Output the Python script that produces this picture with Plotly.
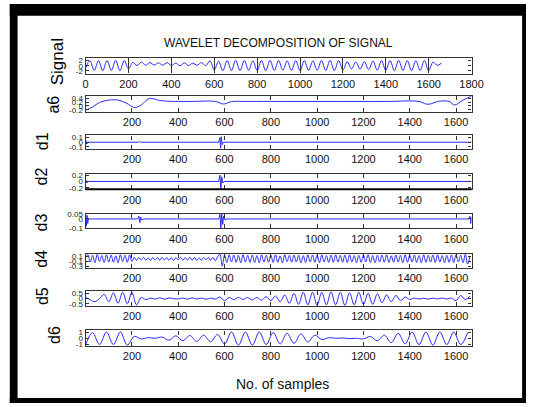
import plotly.graph_objects as go

W, H = 538, 407

# ------------------------------------------------------------------ data
# Original signal, sampled every 20 samples (peaks / troughs)
signal_step = 20
signal_y = [
    -0.8, 1.9, -1.8, 2.0, -1.9, 2.0, -1.8, 2.1, -1.9, 2.0,
    -1.2, 1.3, 0.1, 1.4, 0.2, 1.2, 0.3, 1.1, 0.2, 1.2,
    0.1, 1.0, 0.0, 1.1, 0.1, 1.0, 0.2, 1.2, 0.0, 1.9,
    -1.6, 1.8, -1.9, 2.0, -1.8, 2.1, -1.9, 2.0, -1.7, 1.9,
    -1.8, 2.0, -1.9, 2.1, -1.8, 2.0, -1.7, 1.9, -1.8, 2.0,
    -1.9, 2.0, -1.8, 1.9, -1.7, 2.0, -1.8, 2.1, -1.9, 2.0,
    -1.6, 1.5, -1.2, 1.4, -1.3, 1.6, -1.5, 1.8, -1.7, 2.0,
    -1.8, 2.0, -1.9, 2.1, -1.8, 2.0, -1.9, 1.9, -1.8, 2.0,
    -1.9, 1.4, 0.2, 1.0,
]

# Approximation a6
a6_x = [0, 30, 60, 100, 140, 175, 212, 240, 275, 320, 360, 450, 560, 596, 630,
        700, 900, 1100, 1300, 1440, 1470, 1490, 1520, 1570, 1594, 1630, 1667]
a6_y = [-0.22, -0.05, 0.18, 0.3, 0.3, 0.15, -0.08, 0.05, 0.38, 0.28, 0.24, 0.23, 0.23, 0.1, 0.22,
        0.23, 0.23, 0.23, 0.23, 0.23, 0.1, 0.1, 0.23, 0.23, 0.05, 0.3, 0.5]

# Detail d1
d1_x = [0, 5, 10, 200, 228, 232, 236, 400, 575, 580, 583, 586, 590, 595, 800, 1200, 1667]
d1_y = [0.05, -0.04, 0.0, 0.0, 0.0, 0.02, 0.0, 0.0, 0.0, 0.1, -0.13, 0.12, -0.05, 0.0, 0.0, 0.0, 0.0]

# Detail d2
d2_x = [0, 5, 10, 400, 575, 580, 584, 588, 592, 598, 800, 1667]
d2_y = [0.06, -0.05, 0.0, 0.0, 0.0, 0.2, -0.23, 0.15, -0.05, 0.0, 0.0, 0.0]

# Detail d3
d3_x = [0, 3, 6, 9, 12, 20, 225, 230, 234, 238, 242, 250, 575, 580, 584, 588,
        592, 596, 602, 610, 1655, 1660, 1664, 1667]
d3_y = [0.05, -0.08, 0.04, -0.05, 0.0, 0.0, 0.0, 0.03, -0.04, 0.02, -0.01, 0.0, 0.0, 0.05, -0.1, 0.055,
        -0.06, 0.03, -0.01, 0.0, 0.0, 0.03, -0.05, 0.02]

# Detail d4, every 10 samples
d4_step = 10
d4_y = [
    0.05, 0.16, -0.12, 0.14, -0.15, 0.17, -0.10, 0.13, -0.14, 0.16,
    -0.12, 0.15, -0.13, 0.12, -0.15, 0.16, -0.11, 0.14, -0.13, 0.15,
    -0.10, 0.06, -0.05, 0.05, -0.04, 0.06, -0.05, 0.04, -0.06, 0.05,
    -0.04, 0.05, -0.05, 0.06, -0.04, 0.05, -0.05, 0.04, -0.06, 0.05,
    -0.04, 0.06, -0.05, 0.05, -0.04, 0.06, -0.05, 0.05, -0.06, 0.04,
    -0.05, 0.06, -0.04, 0.05, -0.05, 0.06, -0.07, 0.08, 0.18, -0.28,
    0.15, -0.14, 0.16, -0.12, 0.15, -0.13, 0.14, -0.15, 0.16, -0.12,
    0.14, -0.13, 0.15, -0.14, 0.13, -0.15, 0.16, -0.12, 0.14, -0.13,
    0.15, -0.14, 0.16, -0.13, 0.12, -0.15, 0.16, -0.11, 0.14, -0.13,
    0.15, -0.12, 0.14, -0.15, 0.13, -0.14, 0.16, -0.12, 0.15, -0.13,
    0.14, -0.15, 0.16, -0.12, 0.13, -0.14, 0.15, -0.13, 0.16, -0.12,
    0.14, -0.13, 0.15, -0.14, 0.16, -0.12, 0.13, -0.15, 0.14, -0.13,
    0.15, -0.12, 0.16, -0.14, 0.13, -0.15, 0.14, -0.12, 0.15, -0.13,
    0.16, -0.14, 0.12, -0.13, 0.15, -0.12, 0.14, -0.15, 0.16, -0.13,
    0.14, -0.12, 0.15, -0.14, 0.13, -0.15, 0.16, -0.13, 0.14, -0.12,
    0.15, -0.14, 0.16, -0.12, 0.13, -0.15, 0.14, -0.13, 0.15, -0.14,
    0.16, -0.12, 0.14, -0.15, 0.18, -0.2, 0.1,
]

# Detail d5, every 20 samples
d5_step = 20
d5_y = [
    0.1, -0.1, -0.3, 0.0, 0.4, -0.3, 0.55, -0.45, 0.6, -0.5,
    0.6, -0.6, 0.1, -0.1, 0.05, -0.05, 0.08, -0.06, 0.05, 0.0,
    -0.04, 0.05, -0.05, 0.06, -0.04, 0.05, -0.06, 0.04, -0.05, 0.15,
    -0.2, 0.1, -0.1, 0.12, -0.08, 0.1, -0.12, 0.1, -0.15, 0.18,
    -0.2, 0.25, -0.3, 0.35, -0.45, 0.5, -0.55, 0.6, -0.6, 0.6,
    -0.65, 0.6, -0.6, 0.65, -0.6, 0.6, -0.65, 0.55, -0.6, 0.6,
    -0.55, 0.5, -0.55, 0.45, -0.4, 0.35, -0.3, 0.3, -0.2, 0.15,
    -0.08, 0.05, -0.04, 0.03, -0.05, 0.04, -0.03, 0.05, -0.04, 0.05,
    -0.2, 0.3, -0.1, 0.25,
]

# Detail d6, every 30 samples
d6_step = 30
d6_y = [
    -1.0, 0.9, -1.0, 1.0, -1.0, 1.0, -1.1, 0.3, -0.1, 0.1,
    0.0, 0.2, -0.3, 0.4, -0.4, 0.45, -0.5, 0.5, -0.55, 0.6,
    -0.9, 1.0, -1.1, 1.0, -1.1, 1.0, -1.0, 0.9, -0.9, 0.8,
    -0.8, 0.7, -0.6, 0.5, -0.2, 0.1, 0.0, 0.05, -0.05, 0.0,
    -0.1, 0.3, -0.4, 0.5, -0.7, 0.8, -0.9, 1.0, -1.0, 1.0,
    -1.1, 1.0, -1.0, 1.0, -1.0, 0.9,
]

signal_x = [i * signal_step for i in range(len(signal_y))]
d4_x = [i * d4_step for i in range(len(d4_y))]
d5_x = [i * d5_step for i in range(len(d5_y))]
d6_x = [i * d6_step for i in range(len(d6_y))]

x_ticks_signal = [0, 200, 400, 600, 800, 1000, 1200, 1400, 1600, 1800]
x_ticks_detail = [200, 400, 600, 800, 1000, 1200, 1400, 1600]

series = [
    ("Signal", signal_x, signal_y, [-3, 3], [2, 0, -2], [0, 1800], x_ticks_signal),
    ("a6", a6_x, a6_y, [-0.3, 0.5], [0.4, 0.2, 0, -0.2], [0, 1667], x_ticks_detail),
    ("d1", d1_x, d1_y, [-0.15, 0.15], [0.1, 0, -0.1], [0, 1667], x_ticks_detail),
    ("d2", d2_x, d2_y, [-0.25, 0.25], [0.2, 0, -0.2], [0, 1667], x_ticks_detail),
    ("d3", d3_x, d3_y, [-0.105, 0.057], [0.05, 0, -0.1], [0, 1667], x_ticks_detail),
    ("d4", d4_x, d4_y, [-0.34, 0.19], [0.1, -0.1, -0.3], [0, 1667], x_ticks_detail),
    ("d5", d5_x, d5_y, [-0.7, 0.7], [0.5, 0, -0.5], [0, 1667], x_ticks_detail),
    ("d6", d6_x, d6_y, [-1.25, 1.25], [1, 0, -1], [0, 1667], x_ticks_detail),
]

# ------------------------------------------------------------------ layout (pixels)
PLOT_L, PLOT_R = 85, 482
panel_px = [(55, 71), (94, 110), (134, 148), (173, 189), (214, 229), (255, 269), (293, 308), (333, 349)]
label_px = [(56, 59), (52, 103), (40, 140), (40, 176), (40, 223), (40, 260), (40, 298), (53, 338)]
x_ticklen = [8, 4, 4, 4, 4, 4, 4, 4]
smooth = [True, True, False, False, False, True, True, True]
label_size = [17, 16, 16, 16, 16, 16, 16, 16]

FONT = "Liberation Sans, Arial, sans-serif"
LINE_BLUE = "#2a2aff"
AXIS_COL = "#333333"

fig = go.Figure()
layout = dict(
    width=W, height=H, autosize=False,
    margin=dict(l=0, r=0, t=0, b=0),
    paper_bgcolor="white", plot_bgcolor="white",
    showlegend=False,
    font=dict(family=FONT, color="#111111"),
)

annotations = []
for i, (name, xs, ys, yr, yt, xr, xt) in enumerate(series):
    sfx = "" if i == 0 else str(i + 1)
    top, bot = panel_px[i]
    line = dict(color=LINE_BLUE, width=1)
    if smooth[i]:
        line.update(shape="spline", smoothing=1.0)
    fig.add_trace(go.Scatter(
        x=xs, y=ys, mode="lines", line=line,
        xaxis="x" + sfx, yaxis="y" + sfx, hoverinfo="skip",
    ))
    layout["xaxis" + sfx] = dict(
        domain=[PLOT_L / W, PLOT_R / W], range=xr, anchor="y" + sfx,
        tickmode="array", tickvals=xt, ticktext=[str(v) for v in xt],
        ticks="inside", ticklen=x_ticklen[i], tickcolor=AXIS_COL, tickwidth=1,
        mirror="allticks", showline=True, linecolor=AXIS_COL, linewidth=1.3,
        showgrid=False, zeroline=False,
        tickfont=dict(family=FONT, size=11, color="#111111"),
    )
    layout["yaxis" + sfx] = dict(
        domain=[1 - bot / H, 1 - top / H], range=yr, anchor="x" + sfx,
        tickmode="array", tickvals=yt, ticktext=[str(v) for v in yt],
        ticks="inside", ticklen=3, tickcolor=AXIS_COL, tickwidth=1,
        mirror="allticks", showline=True, linecolor=AXIS_COL, linewidth=1.3,
        showgrid=False, zeroline=False,
        tickfont=dict(family=FONT, size=8, color="#222222"),
    )
    lx, ly = label_px[i]
    annotations.append(dict(
        text=name, x=lx / W, y=1 - ly / H, xref="paper", yref="paper",
        xanchor="center", yanchor="middle", textangle=-90, showarrow=False,
        font=dict(family=FONT, size=label_size[i], color="#000000"),
    ))

annotations.append(dict(
    text="WAVELET DECOMPOSITION OF SIGNAL", x=283 / W, y=1 - 40 / H,
    xref="paper", yref="paper", xanchor="center", yanchor="middle", showarrow=False,
    font=dict(family=FONT, size=12, color="#111111"),
))
annotations.append(dict(
    text="No. of samples", x=288 / W, y=1 - 388 / H,
    xref="paper", yref="paper", xanchor="center", yanchor="middle", showarrow=False,
    font=dict(family=FONT, size=14, color="#111111"),
))
layout["annotations"] = annotations

def rect(x0, y0, x1, y1):
    return dict(type="rect", xref="paper", yref="paper",
                x0=x0 / W, x1=x1 / W, y0=1 - y1 / H, y1=1 - y0 / H,
                fillcolor="black", line=dict(width=0), layer="above")

layout["shapes"] = [
    rect(7, 0, 538, 12),      # top frame
    rect(7, 0, 15, 407),      # left frame
    rect(534, 0, 538, 407),   # right frame
    rect(7, 402, 538, 407),   # bottom frame
    dict(type="line", xref="paper", yref="paper",
         x0=PLOT_L / W, x1=PLOT_R / W, y0=1 - 189 / H, y1=1 - 189 / H,
         line=dict(color="black", width=2)),
]

fig.update_layout(**layout)

fig.write_html(
    "out.html",
    config={"displayModeBar": False},
    post_script="document.body.style.margin='0';document.body.style.overflow='hidden';",
)
